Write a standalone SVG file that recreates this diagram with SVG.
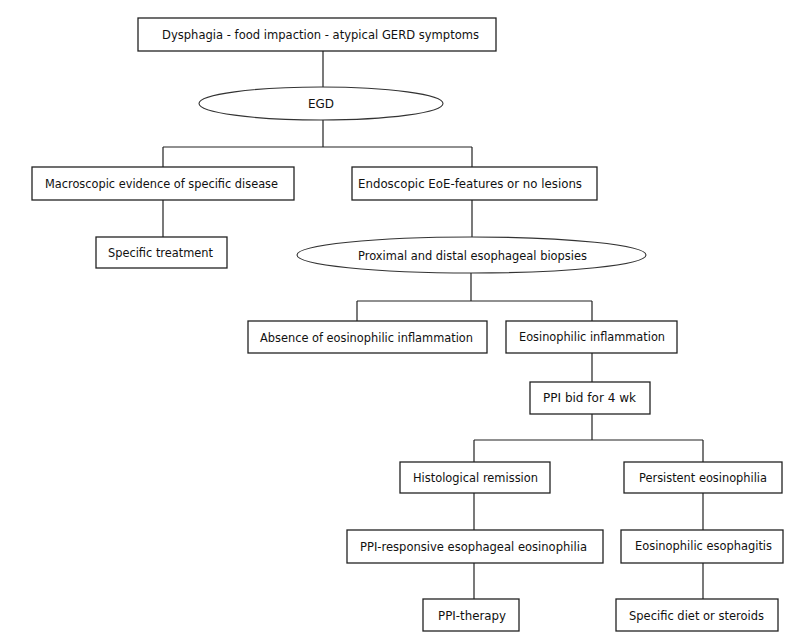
<svg xmlns="http://www.w3.org/2000/svg" width="800" height="644" viewBox="0 0 800 644">
<style>
.b{fill:#fff;stroke:#222;stroke-width:1.3}
.e{fill:#fff;stroke:#333;stroke-width:1.1}
.c{fill:none;stroke:#222;stroke-width:1.2}
text{font-family:"DejaVu Sans",Verdana,sans-serif;font-size:12px;fill:#111;text-anchor:middle}
</style>
<rect width="800" height="644" fill="#fff"/>
<g id="connectors">
<path class="c" d="M323 51V87M323 120V147M163 147H472M163 147V167M472 147V167M163 200V237M472 200V237M471 273V301M357 301H592M357 301V321M592 301V321M592 353V382M592 414V440M474 440H703M474 440V462M703 440V462M474 493V530M703 493V530M474 563V599M703 563V599"/>
</g>
<g id="n1"><rect class="b" x="138" y="18" width="358" height="33"/><text x="320.5" y="39" textLength="317" lengthAdjust="spacingAndGlyphs">Dysphagia - food impaction - atypical GERD symptoms</text></g>
<g id="n2"><ellipse class="e" cx="321" cy="103.5" rx="122" ry="16.5"/><text x="321" y="108">EGD</text></g>
<g id="n3"><rect class="b" x="32" y="167" width="262" height="33"/><text x="161.5" y="188" textLength="233" lengthAdjust="spacingAndGlyphs">Macroscopic evidence of specific disease</text></g>
<g id="n4"><rect class="b" x="352" y="167" width="245" height="33"/><text x="470" y="188" textLength="224" lengthAdjust="spacingAndGlyphs">Endoscopic EoE-features or no lesions</text></g>
<g id="n5"><rect class="b" x="96" y="237" width="131" height="31"/><text x="160.5" y="257" textLength="105" lengthAdjust="spacingAndGlyphs">Specific treatment</text></g>
<g id="n6"><ellipse class="e" cx="471.5" cy="255" rx="174.5" ry="18"/><text x="472.5" y="259.5" textLength="229" lengthAdjust="spacingAndGlyphs">Proximal and distal esophageal biopsies</text></g>
<g id="n7"><rect class="b" x="248" y="321" width="239" height="32"/><text x="366.5" y="341.5" textLength="213" lengthAdjust="spacingAndGlyphs">Absence of eosinophilic inflammation</text></g>
<g id="n8"><rect class="b" x="506" y="321" width="171" height="32"/><text x="592" y="341" textLength="146" lengthAdjust="spacingAndGlyphs">Eosinophilic inflammation</text></g>
<g id="n9"><rect class="b" x="530" y="382" width="120" height="32"/><text x="589.5" y="402" textLength="93" lengthAdjust="spacingAndGlyphs">PPI bid for 4 wk</text></g>
<g id="n10"><rect class="b" x="400" y="462" width="150" height="31"/><text x="475.5" y="482" textLength="125" lengthAdjust="spacingAndGlyphs">Histological remission</text></g>
<g id="n11"><rect class="b" x="624" y="462" width="158" height="31"/><text x="703" y="482" textLength="128" lengthAdjust="spacingAndGlyphs">Persistent eosinophilia</text></g>
<g id="n12"><rect class="b" x="347" y="530" width="256" height="33"/><text x="473.5" y="551" textLength="227" lengthAdjust="spacingAndGlyphs">PPI-responsive esophageal eosinophilia</text></g>
<g id="n13"><rect class="b" x="621" y="530" width="162" height="33"/><text x="703.5" y="550" textLength="137" lengthAdjust="spacingAndGlyphs">Eosinophilic esophagitis</text></g>
<g id="n14"><rect class="b" x="423" y="599" width="96" height="32"/><text x="472" y="619.5" textLength="68" lengthAdjust="spacingAndGlyphs">PPI-therapy</text></g>
<g id="n15"><rect class="b" x="616" y="599" width="162" height="32"/><text x="696.5" y="619.5" textLength="135" lengthAdjust="spacingAndGlyphs">Specific diet or steroids</text></g>
</svg>
